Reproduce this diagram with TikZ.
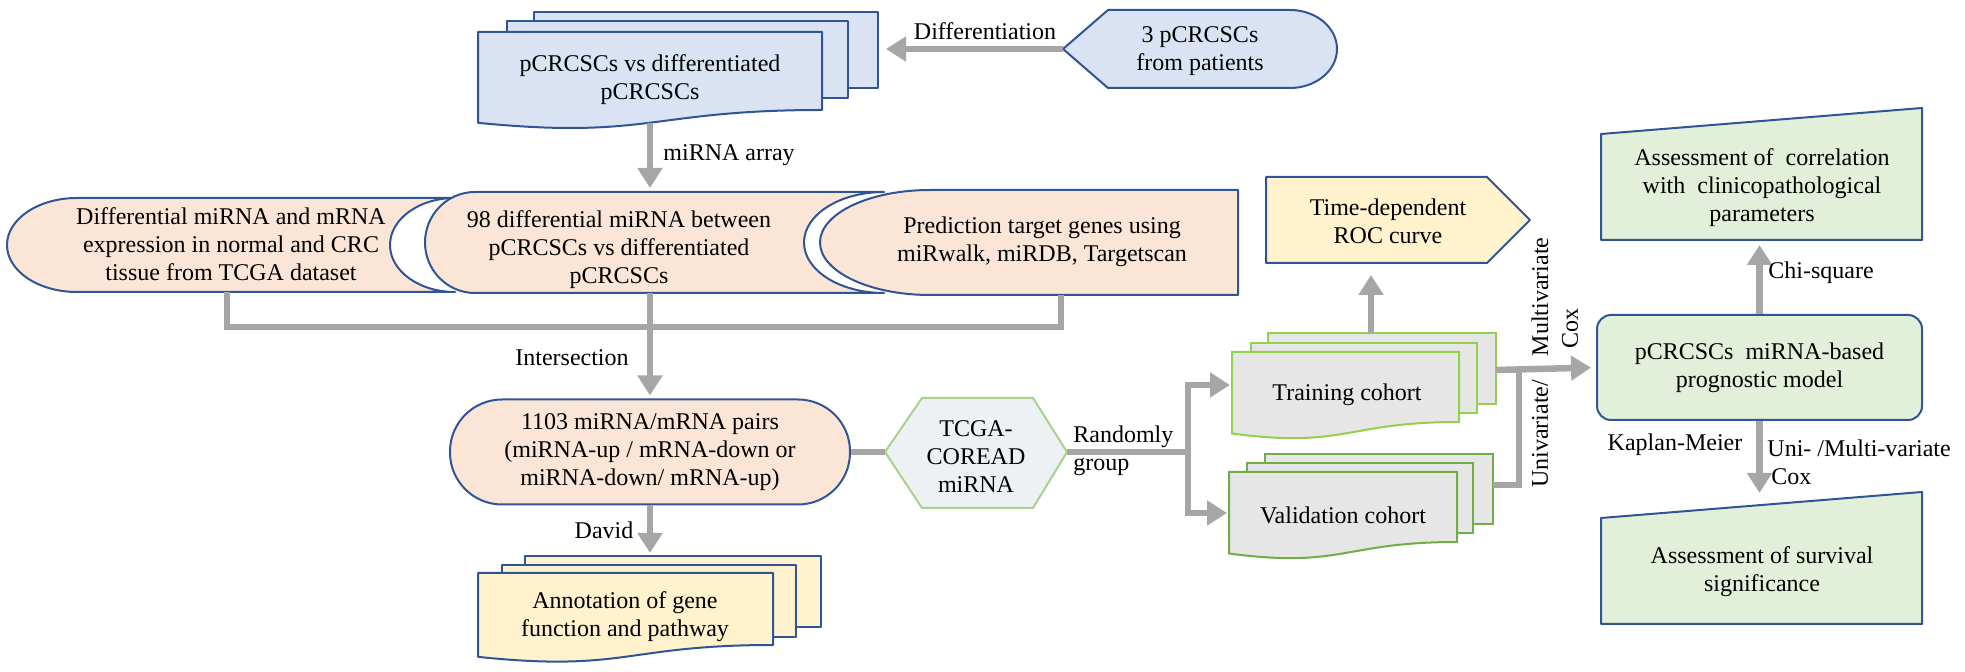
\documentclass[tikz,border=0pt]{standalone}
\usepackage{fontspec}
\setmainfont{Liberation Serif}
\usetikzlibrary{arrows.meta}
\definecolor{bdblue}{HTML}{2F5597}
\definecolor{fblue}{HTML}{DAE3F3}
\definecolor{fpeach}{HTML}{FBE5D6}
\definecolor{fyel}{HTML}{FFF2CC}
\definecolor{fgreen}{HTML}{E2F0D9}
\definecolor{fgray}{HTML}{E7E6E6}
\definecolor{fhex}{HTML}{EEF1F3}
\definecolor{ghex}{HTML}{A9D18E}
\definecolor{gtr}{HTML}{92D050}
\definecolor{gva}{HTML}{70AD47}
\definecolor{cgray}{HTML}{A6A6A6}

\newcommand{\wdoc}[5]{%
  \pgfmathsetmacro{\wdocH}{(#5-#3)/0.802}%
  \pgfmathsetmacro{\wdocYL}{#3+0.934*\wdocH}%
  \pgfmathsetmacro{\wdocC}{#3+1.107*\wdocH}%
  \pgfmathsetmacro{\wdocM}{(#2+#4)/2}%
  \path[#1] (#2,#3) -- (#4,#3) -- (#4,#5) .. controls (\wdocM,#5) and (\wdocM,\wdocC) .. (#2,\wdocYL) -- cycle;}
\newcommand{\backsheet}[5]{\path[#1] (#2,#3) rectangle (#4,#5);}

\begin{document}
\begin{tikzpicture}[x=0.5pt,y=-0.5pt, font=\fontsize{12}{14}\selectfont,
  conn/.style={draw=cgray, line width=3.25pt},
  arr/.style={conn,-{Triangle[length=10pt,width=12pt]}},
  txt/.style={align=center, inner sep=0pt},
  lbl/.style={inner sep=0pt},
  bshape/.style={draw=bdblue, line width=1pt, line join=round},
  trshape/.style={draw=gtr, line width=1pt, fill=fgray},
  vashape/.style={draw=gva, line width=1pt, fill=fgray},
]
\useasboundingbox (0,0) rectangle (1965,672);

% ---- top document stack
\backsheet{bshape, fill=fblue}{534}{12}{878}{88}
\backsheet{bshape, fill=fblue}{507}{21}{848}{98}
\wdoc{bshape, fill=fblue}{478}{32}{822}{110}
\node[txt] (topdoc) at (650,80) {pCRCSCs vs differentiated\\pCRCSCs};
\coordinate (topE) at (878,49);
\coordinate (topS) at (650,123);

% ---- 3 pCRCSCs display shape
\path[bshape, fill=fblue] (1063,49) -- (1108,10) -- (1290,10) .. controls (1316,10) and (1337,27.5) .. (1337,49) .. controls (1337,70.5) and (1316,88) .. (1290,88) -- (1108,88) -- cycle;
\node[txt] (pat) at (1200,51) {3 pCRCSCs\\from patients};
\coordinate (patW) at (1063,49);

% ---- middle row
\path[bshape, fill=fpeach] (77,198) -- (455,198) .. controls (419.1,198) and (390,219) .. (390,245) .. controls (390,271) and (419.1,292) .. (455,292) -- (77,292) .. controls (38.3,292) and (7,271) .. (7,245) .. controls (7,219) and (38.3,198) .. (77,198) -- cycle;
\node[txt] (s1) at (231,244) {Differential miRNA and mRNA\\expression in normal and CRC\\tissue from TCGA dataset};

\path[bshape, fill=fpeach] (475,192) -- (884,192) .. controls (839.8,192) and (804,214.6) .. (804,242.5) .. controls (804,270.4) and (839.8,293) .. (884,293) -- (475,293) .. controls (447.4,293) and (425,270.4) .. (425,242.5) .. controls (425,214.6) and (447.4,192) .. (475,192) -- cycle;
\node[txt] (s2) at (619,250) {98 differential miRNA between\\pCRCSCs vs differentiated\\pCRCSCs};

\path[bshape, fill=fpeach] (930,190) -- (1238,190) -- (1238,295) -- (930,295) .. controls (869.25,295) and (820,271.5) .. (820,242.5) .. controls (820,213.5) and (869.25,190) .. (930,190) -- cycle;
\node[txt] (s3) at (1042,242) {Prediction target genes using\\miRwalk, miRDB, Targetscan};

\coordinate (s2N) at (650,192);
\coordinate (s1S) at (227,292);
\coordinate (s2S) at (650,293);
\coordinate (s3S) at (1061,295);
\coordinate (jn) at (650,327);

% ---- 1103 pairs
\node[txt, draw=bdblue, line width=1pt, fill=fpeach, rounded corners=26pt, minimum width=200pt, minimum height=52.5pt] (pairs) at (650,452) {1103 miRNA/mRNA pairs\\(miRNA-up / mRNA-down or\\miRNA-down/ mRNA-up)};

% ---- hexagon
\path[draw=ghex, line width=1pt, fill=fhex] (885,452) -- (922,398) -- (1033,398) -- (1067,452) -- (1033,508) -- (922,508) -- cycle;
\node[txt] (hex) at (976,457) {TCGA-\\COREAD\\miRNA};
\coordinate (hexW) at (885,452);
\coordinate (hexE) at (1067,452);
\coordinate (jG) at (1188,452);

% ---- annotation stack
\backsheet{bshape, fill=fyel}{525}{556}{821}{627}
\backsheet{bshape, fill=fyel}{502}{565}{796}{637}
\wdoc{bshape, fill=fyel}{478}{573}{773}{645}
\node[txt] (ann) at (625,617) {Annotation of gene\\function and pathway};
\coordinate (annN) at (650,556);

% ---- ROC
\path[bshape, fill=fyel] (1266,177) -- (1487,177) -- (1530,220) -- (1487,263) -- (1266,263) -- cycle;
\node[txt] (roc) at (1388,221) {Time-dependent\\ROC curve};
\coordinate (rocS) at (1371,263);

% ---- training stack
\backsheet{trshape}{1268}{333}{1496}{404}
\backsheet{trshape}{1251}{343}{1477}{413}
\wdoc{trshape}{1232}{352}{1459}{422}
\node[txt] (tr) at (1347,395) {Training cohort};
\coordinate (trW) at (1232,385);
\coordinate (trN) at (1371,333);
\coordinate (trE) at (1496,370);

% ---- validation stack
\backsheet{vashape}{1265}{454}{1493}{524}
\backsheet{vashape}{1247}{463}{1473}{533}
\wdoc{vashape}{1229}{472}{1457}{542}
\node[txt] (va) at (1343,515) {Validation cohort};
\coordinate (vaW) at (1229,513);
\coordinate (vaE) at (1493,485);
\coordinate (jR) at (1519,370);

% ---- right column
\node[txt, draw=bdblue, line width=1pt, fill=fgreen, rounded corners=7pt, minimum width=162.5pt, minimum height=52.5pt] (model) at (1759.5,367.5) {pCRCSCs\ \ miRNA-based\\prognostic model};

\path[bshape, fill=fgreen] (1601,134) -- (1922,108) -- (1922,240) -- (1601,240) -- cycle;
\node[txt] (cor) at (1762,188) {Assessment of\ \ correlation\\with\ \ clinicopathological\\parameters};
\coordinate (corS) at (1759.5,240);

\path[bshape, fill=fgreen] (1601,518) -- (1922,492) -- (1922,624) -- (1601,624) -- cycle;
\node[txt] (sur) at (1762,572) {Assessment of survival\\significance};
\coordinate (surN) at (1759.5,505);

% ---- connectors
\draw[arr, shorten >=4pt] (patW) -- (topE);
\node[lbl] (ldiff) at (985,31) {Differentiation};
\draw[arr, shorten >=2pt] (topS) -- (s2N);
\node[lbl, anchor=west] (lmir) at (663,155) {miRNA array};
\draw[conn] (s1S) |- (jn) -| (s3S);
\draw[arr, shorten >=1.5pt] (s2S) -- (pairs.north);
\node[lbl] (linter) at (572,358) {Intersection};
\draw[arr, shorten >=1.5pt] (pairs.south) -- (annN);
\node[lbl] (ldavid) at (604,530) {David};
\draw[conn] (pairs.east) -- (hexW);
\draw[conn] (hexE) -- (jG);
\node[lbl, anchor=west, align=left] (lrand) at (1073,451) {Randomly\\group};
\draw[arr, shorten >=1pt] (jG) |- (trW);
\draw[arr, shorten >=1pt] (jG) |- (vaW);
\draw[arr, shorten >=6pt] (trN) -- (rocS);
\draw[conn] (vaE) -| (jR);
\draw[arr, shorten >=2.5pt] (trE) -- (model.west);
\node[lbl, rotate=90] (luni) at (1540,434) {Univariate/};
\node[lbl, rotate=90] (lmulti) at (1540,297) {Multivariate};
\node[lbl, rotate=90] (lcox) at (1570,329) {Cox};
\draw[arr, shorten >=2.5pt] (model.north) -- (corS);
\node[lbl, anchor=west] (lchi) at (1768,273) {Chi-square};
\draw[arr, shorten >=6pt] (model.south) -- (surN);
\node[lbl] (lkm) at (1675,445) {Kaplan-Meier};
\node[lbl, anchor=west, align=left] (lunim) at (1767,462) {Uni- /Multi-variate\\\hspace{2pt}Cox};
\end{tikzpicture}
\end{document}
